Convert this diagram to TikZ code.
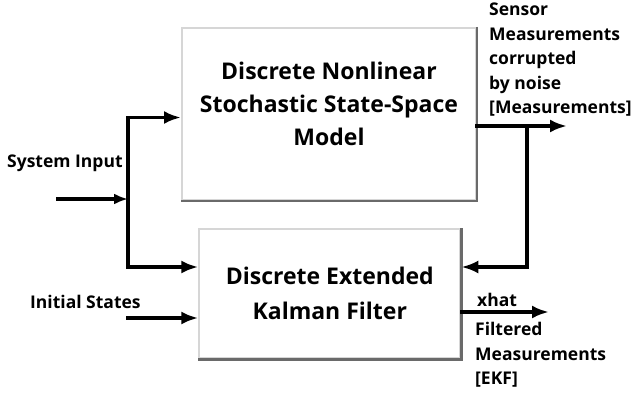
\documentclass[tikz,border=0pt]{standalone}
\usepackage{fontspec}
\setmainfont{Open Sans}
\usetikzlibrary{arrows.meta}
\definecolor{frame}{HTML}{D6D6D6}
\definecolor{frameshade}{HTML}{6A6A6A}
\tikzset{
  block/.style={draw=frame, line width=2pt, fill=white, inner sep=0pt},
  blockshade/.style={draw=frameshade, line width=2.4pt},
  title/.style={font=\bfseries\fontsize{23}{33}\selectfont, align=center, inner sep=0pt},
  lab/.style={font=\bfseries\fontsize{17.5}{24.5}\selectfont, align=left, inner sep=0pt},
  wire/.style={draw=black, line width=3.5pt, line cap=rect},
  signal/.style={wire, -{Latex[length=17pt,width=13pt]}},
  signalsm/.style={wire, -{Latex[length=14pt,width=11pt]}}
}
\begin{document}
\begin{tikzpicture}[x=1pt, y=-1pt]
  \useasboundingbox (0,0) rectangle (634,396);

  % the two blocks
  \node[block, minimum width=294pt, minimum height=172pt] (model) at (329,114) {};
  \draw[blockshade] (model.north east) -- (model.south east) -- (model.south west);
  \node[title] (modeltitle) at ([yshift=10.3pt]model.center)
    {Discrete Nonlinear\\Stochastic State-Space\\Model};

  \node[block, minimum width=261pt, minimum height=129pt] (filter) at (329.8,293.8) {};
  \draw[blockshade] (filter.north east) -- (filter.south east) -- (filter.south west);
  \node[title, font=\bfseries\fontsize{23}{35}\selectfont] (filtertitle) at (filter.center)
    {Discrete Extended\\Kalman Filter};

  % signal labels
  \node[lab, anchor=base west] (sysin) at (7,167) {System Input};
  \node[lab, anchor=base west] (initst) at (30,308) {Initial States};
  \node[lab, anchor=north west] (measlab) at (489,3)
    {Sensor\\Measurements\\corrupted\\by noise\\{[Measurements]}};
  \node[lab, anchor=base west] (xhatlab) at (477,306) {xhat};
  \node[lab, anchor=north west] (ekflab) at (475,322)
    {Filtered\\Measurements\\{[EKF]}};

  % junction points
  \coordinate (uin) at (58,199);
  \coordinate (usplit) at (128,199);
  \coordinate (utop) at (128,117.5);
  \coordinate (ubot) at (128,267);
  \coordinate (x0in) at (128,318);
  \coordinate (ytap) at (527,126);
  \coordinate (yout) at (567,126);
  \coordinate (yfb) at (527,267);
  \coordinate (xhatout) at (549,312);

  % input branches
  \draw[signalsm] (uin) -- (usplit);
  \draw[wire] (utop) -- (ubot);
  \draw[signal] (utop) -- (utop -| model.west);
  \draw[signal] (ubot) -- (ubot -| filter.west);
  \draw[signal] (x0in) -- (x0in -| filter.west);

  % measurement output and feedback
  \draw[signal] (model.east |- ytap) -- (yout);
  \draw[signal] (ytap) -- (yfb) -- (yfb -| filter.east);
  \draw[signal] (filter.east |- xhatout) -- (xhatout);
\end{tikzpicture}
\end{document}
